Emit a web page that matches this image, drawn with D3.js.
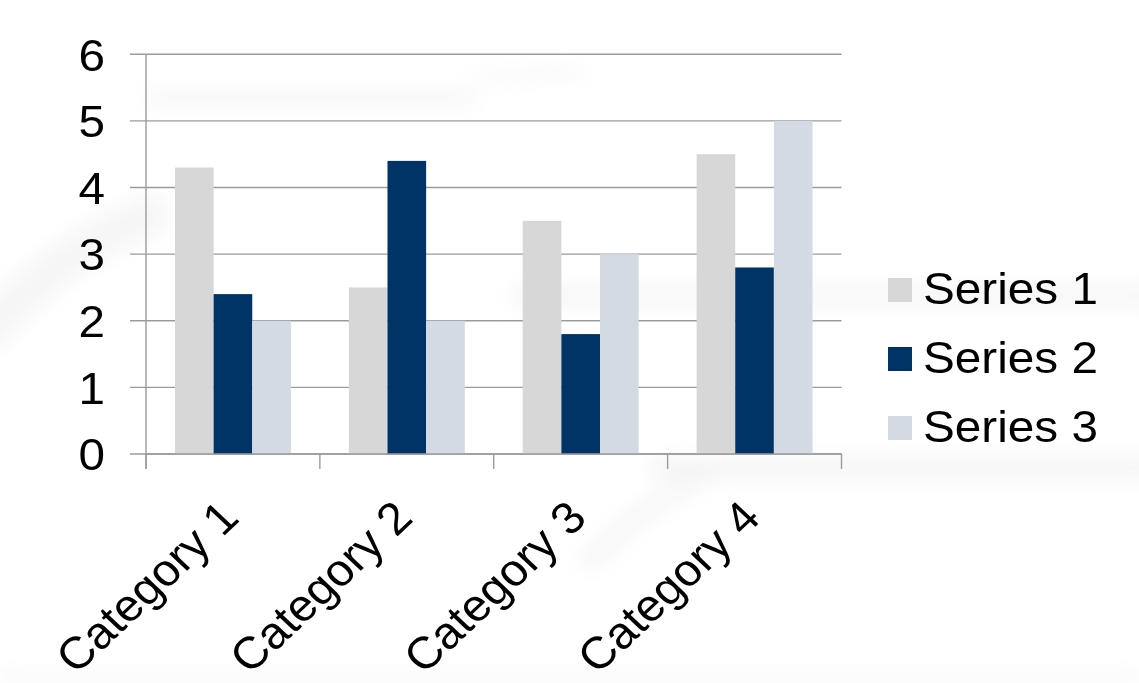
<!DOCTYPE html>
<html>
<head>
<meta charset="utf-8">
<script src="https://cdn.jsdelivr.net/npm/d3@7"></script>
<style>
  html, body { margin: 0; padding: 0; background: #ffffff; }
  svg { display: block; }
  text { font-family: "Liberation Sans", Arial, sans-serif; fill: #000; }
</style>
</head>
<body>
<svg id="chart" width="1139" height="683"></svg>
<script>
// ---- data ----
const categories = ["Category 1", "Category 2", "Category 3", "Category 4"];
const seriesNames = ["Series 1", "Series 2", "Series 3"];
const series1 = [4.3, 2.5, 3.5, 4.5];
const series2 = [2.4, 4.4, 1.8, 2.8];
const series3 = [2, 2, 3, 5];
const yTicks = [0, 1, 2, 3, 4, 5, 6];
const colors = ["#d7d7d7", "#003366", "#d3dae3"];

const seriesValues = [series1, series2, series3];

(function () {
const svg = d3.select("#chart");
const sx = 1.06; // horizontal stretch of text in the reference
const fontSize = 45;

// faint background streaks
const defs = svg.append("defs");
defs.append("filter").attr("id", "blur").attr("x", "-50%").attr("y", "-50%").attr("width", "200%").attr("height", "200%")
  .append("feGaussianBlur").attr("stdDeviation", 10);
const bg = svg.append("g").attr("filter", "url(#blur)").attr("fill", "none").attr("stroke", "#f0f0f0").attr("stroke-linecap", "round");
const streaks = [
  {d: "M -10 330 Q 60 250 150 215", w: 40, o: 0.6},
  {d: "M 150 98 L 470 98", w: 18, o: 0.45},
  {d: "M 480 75 L 580 72", w: 16, o: 0.35},
  {d: "M 520 296 L 1150 296", w: 22, o: 0.6},
  {d: "M 660 468 L 1150 468", w: 20, o: 0.7},
  {d: "M 590 560 Q 650 500 700 478", w: 22, o: 0.5},
  {d: "M 0 678 L 1139 678", w: 14, o: 0.4}
];
bg.selectAll("path").data(streaks).join("path")
  .attr("d", d => d.d).attr("stroke-width", d => d.w).attr("opacity", d => d.o);

// ---- scales ----
const pLeft = 146, pRight = 841.5, pTop = 54.3, pBottom = 454;
const x0 = d3.scaleBand().domain(categories).range([pLeft, pRight]).paddingInner(0).paddingOuter(0);
const x1 = d3.scaleBand().domain(seriesNames).range([0, x0.bandwidth()]).paddingInner(0).paddingOuter(0.75);
const y = d3.scaleLinear().domain([0, 6]).range([pBottom, pTop]);

const axisColor = "#9b9b9b";

// gridlines
svg.append("g").selectAll("line").data(yTicks).join("line")
  .attr("x1", pLeft - 16).attr("x2", pRight)
  .attr("y1", d => y(d)).attr("y2", d => y(d))
  .attr("stroke", axisColor).attr("stroke-width", 1.4);

// bars
const bars = svg.append("g");
categories.forEach((c, ci) => {
  seriesNames.forEach((s, si) => {
    const v = seriesValues[si][ci];
    bars.append("rect")
      .attr("x", x0(c) + x1(s))
      .attr("width", x1.bandwidth())
      .attr("y", y(v))
      .attr("height", y(0) - y(v))
      .attr("fill", colors[si]);
  });
});

// y axis line
svg.append("line").attr("x1", pLeft).attr("x2", pLeft).attr("y1", pTop).attr("y2", pBottom + 15)
  .attr("stroke", axisColor).attr("stroke-width", 1.4);
// x axis baseline
svg.append("line").attr("x1", pLeft).attr("x2", pRight).attr("y1", pBottom).attr("y2", pBottom)
  .attr("stroke", axisColor).attr("stroke-width", 1.4);
// x ticks at category boundaries
const boundaries = categories.map(c => x0(c)).concat([pRight]);
svg.append("g").selectAll("line").data(boundaries).join("line")
  .attr("x1", d => d).attr("x2", d => d).attr("y1", pBottom).attr("y2", pBottom + 15)
  .attr("stroke", axisColor).attr("stroke-width", 1.4);

// y labels
svg.append("g").selectAll("text").data(yTicks).join("text")
  .attr("transform", d => `translate(105,${y(d)}) scale(${sx},1)`)
  .attr("text-anchor", "end").attr("dy", "0.36em")
  .attr("font-size", fontSize)
  .text(d => d);

// x labels (rotated)
svg.append("g").selectAll("text").data(categories).join("text")
  .attr("transform", d => `translate(${x0(d) + x0.bandwidth() / 2 + 8},520) scale(${sx},1) rotate(-45)`)
  .attr("text-anchor", "end")
  .attr("font-size", fontSize)
  .text(d => d);

// legend
const legend = svg.append("g");
seriesNames.forEach((s, i) => {
  const yy = 278 + i * 69;
  legend.append("rect").attr("x", 888).attr("y", yy).attr("width", 24).attr("height", 24).attr("fill", colors[i]);
  legend.append("text")
    .attr("transform", `translate(923,${yy + 26}) scale(${sx},1)`)
    .attr("font-size", fontSize)
    .text(s);
});
})();
</script>
</body>
</html>
